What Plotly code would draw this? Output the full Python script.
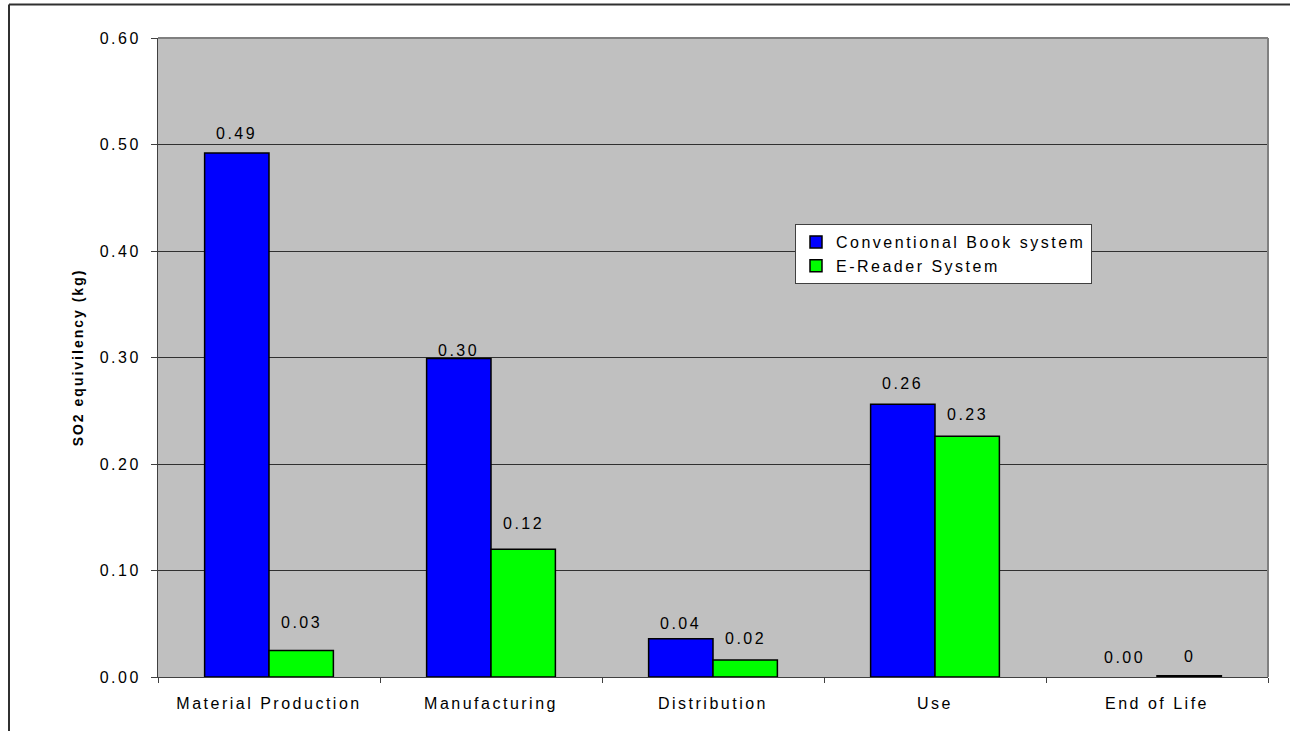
import plotly.graph_objects as go

categories = ["Material Production", "Manufacturing", "Distribution", "Use", "End of Life"]
series_names = ["Conventional Book system", "E-Reader System"]
conventional = [0.492, 0.299, 0.036, 0.256, 0.0]
ereader = [0.025, 0.120, 0.016, 0.226, 0.0012]
conventional_labels = ["0.49", "0.30", "0.04", "0.26", "0.00"]
ereader_labels = ["0.03", "0.12", "0.02", "0.23", "0"]
y_ticks = [0.0, 0.1, 0.2, 0.3, 0.4, 0.5, 0.6]
y_tick_labels = ["0.00", "0.10", "0.20", "0.30", "0.40", "0.50", "0.60"]

# label offsets above bar tops (px), style only
conventional_label_shift = [9.5, -2, 5, 10, 9]
ereader_label_shift = [17, 15, 10.5, 11, 9]

FONT = "Arial, Liberation Sans, sans-serif"
W, H = 1290, 731
ML, MR, MT, MB = 158, 22, 38, 54
BARGAP = 0.42


def sp(s, px=2.5):
    return f"<span style='letter-spacing:{px}px'>{s}</span>"


fig = go.Figure()
fig.add_trace(go.Bar(
    name=sp(series_names[0]), x=categories, y=conventional,
    marker=dict(color="#0000FF",
                line=dict(color="black", width=[1.5 if v > 0 else 0 for v in conventional])),
))
fig.add_trace(go.Bar(
    name=sp(series_names[1]), x=categories, y=ereader,
    marker=dict(color="#00FF00",
                line=dict(color="black", width=[1.5 if v > 0 else 0 for v in ereader])),
))

# value labels above bars (annotations placed through the axis scale)
plot_w = W - ML - MR
cat_w = plot_w / len(categories)
bar_w = cat_w * (1 - BARGAP) / 2
annotations = []
for vals, labels, shifts, sign in [(conventional, conventional_labels, conventional_label_shift, -1),
                                   (ereader, ereader_labels, ereader_label_shift, 1)]:
    for c, v, t, s in zip(categories, vals, labels, shifts):
        annotations.append(dict(
            x=c, y=v, xref="x", yref="y", text=sp(t), showarrow=False,
            xanchor="center", yanchor="bottom", xshift=sign * bar_w / 2, yshift=s,
            font=dict(family=FONT, size=16, color="black"),
        ))

fig.update_layout(
    width=W, height=H,
    margin=dict(l=ML, r=MR, t=MT, b=MB),
    paper_bgcolor="white", plot_bgcolor="#C0C0C0",
    barmode="group", bargap=BARGAP, bargroupgap=0,
    font=dict(family=FONT, size=16, color="black"),
    showlegend=True,
    legend=dict(
        x=(795 - ML) / plot_w, y=(H - MB - 224) / (H - MT - MB), xanchor="left", yanchor="top",
        bgcolor="white", bordercolor="#404040", borderwidth=1,
        font=dict(family=FONT, size=16, color="black"),
        tracegroupgap=0, itemwidth=30,
    ),
    annotations=annotations,
)
fig.update_xaxes(
    tickmode="array", tickvals=categories, ticktext=[sp(c) for c in categories],
    tickson="boundaries", ticks="outside", ticklen=5, tickcolor="#404040",
    ticklabelstandoff=12,
    showline=True, linecolor="#404040", linewidth=1,
    tickfont=dict(family=FONT, size=16, color="black"),
    showgrid=False,
)
fig.update_yaxes(
    range=[0, 0.6], tickmode="array", tickvals=y_ticks, ticktext=[sp(t) for t in y_tick_labels],
    ticks="outside", ticklen=6, tickcolor="#404040", ticklabelstandoff=7,
    showline=True, linecolor="#404040", linewidth=1,
    showgrid=True, gridcolor="#303030", gridwidth=1,
    zeroline=False,
    tickfont=dict(family=FONT, size=16, color="black"),
    title=dict(text="<b>" + sp("SO2 equivilency (kg)", 2) + "</b>",
               font=dict(family=FONT, size=14, color="black"), standoff=12),
)
# plot-area border on top and right
fig.add_shape(type="line", xref="paper", yref="paper", x0=0, x1=1, y0=1, y1=1,
              line=dict(color="#808080", width=2))
fig.add_shape(type="line", xref="paper", yref="paper", x0=1, x1=1, y0=0, y1=1,
              line=dict(color="#808080", width=2))
# outer chart border (top and left visible)
ph = H - MT - MB
fig.add_shape(type="line", xref="paper", yref="paper",
              x0=(9 - ML) / plot_w, x1=(W - ML) / plot_w,
              y0=(H - MB - 4.5) / ph, y1=(H - MB - 4.5) / ph,
              line=dict(color="#303030", width=2))
fig.add_shape(type="line", xref="paper", yref="paper",
              x0=(9 - ML) / plot_w, x1=(9 - ML) / plot_w,
              y0=(H - MB - 4.5) / ph, y1=(H - MB - 740) / ph,
              line=dict(color="#303030", width=2))

fig.write_html("out.html")
